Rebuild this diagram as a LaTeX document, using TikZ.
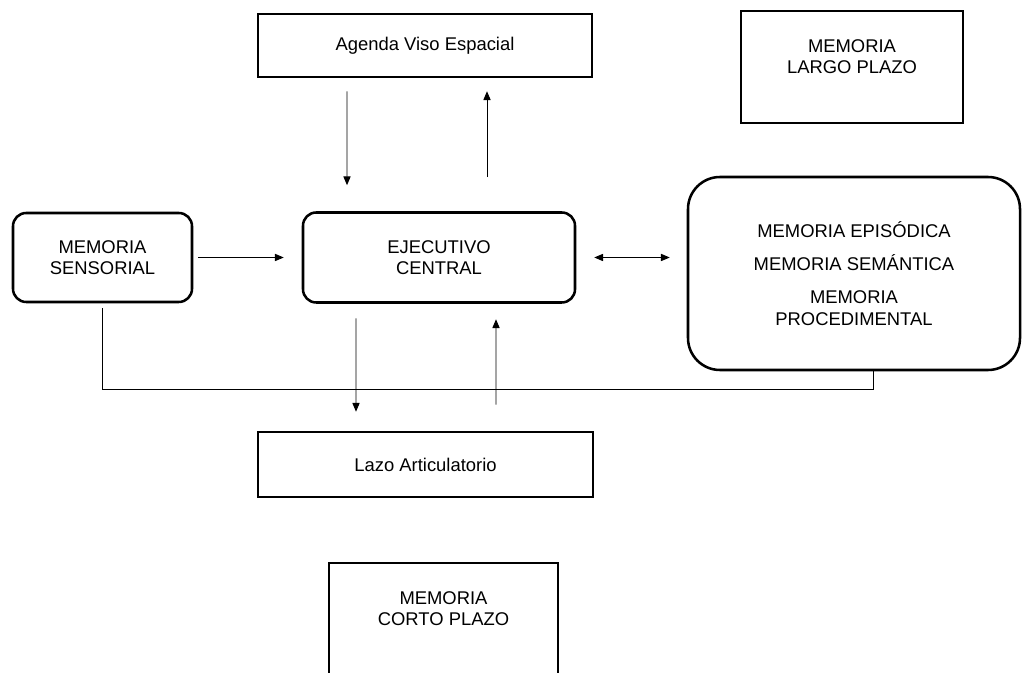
\documentclass[tikz,border=0pt]{standalone}
\usepackage{fontspec}
\setmainfont{Liberation Sans}
\usetikzlibrary{arrows.meta}
\tikzset{
  caja/.style={draw,line width=1.8pt,align=center,inner sep=2pt,font=\fontsize{13.1}{15}\selectfont},
  cajar/.style={caja,rounded corners=0.33cm},
  flecha/.style={line width=0.7pt,-{Triangle[length=0.22cm,width=0.18cm]}},
  doble/.style={line width=0.7pt,{Triangle[length=0.22cm,width=0.18cm]}-{Triangle[length=0.22cm,width=0.18cm]}},
}

\begin{document}
\begin{tikzpicture}
\useasboundingbox (0,0) rectangle (25.55,16.8);

\node[caja,minimum width=8.35cm,minimum height=1.575cm] (agenda) at (10.625,15.6625) {Agenda Viso Espacial};
\node[caja,minimum width=5.55cm,minimum height=2.8cm] (largo) at (21.3,15.125) {MEMORIA\\LARGO PLAZO\\~};
\node[cajar,minimum width=4.475cm,minimum height=2.225cm] (sensorial) at (2.5625,10.3625) {MEMORIA\\SENSORIAL};
\node[cajar,minimum width=6.8cm,minimum height=2.25cm] (ejecutivo) at (10.975,10.3625) {EJECUTIVO\\CENTRAL};
\node[caja,rounded corners=0.8cm,minimum width=8.3cm,minimum height=4.825cm] (tipos) at (21.35,9.9625) {MEMORIA EPISÓDICA\\[0.3cm]MEMORIA SEMÁNTICA\\[0.3cm]MEMORIA\\PROCEDIMENTAL};
\node[caja,minimum width=8.375cm,minimum height=1.625cm] (lazo) at (10.6375,5.1875) {Lazo Articulatorio};
\node[caja,minimum width=5.725cm,minimum height=2.8cm] (corto) at (11.0875,1.325) {MEMORIA\\CORTO PLAZO\\~};

% agenda <-> ejecutivo
\draw[flecha,shorten <=0.325cm,shorten >=0.65cm] ([xshift=-1.95cm]agenda.south) -- ([xshift=-2.3cm]ejecutivo.north);
\draw[flecha,shorten <=0.85cm,shorten >=0.325cm] ([xshift=1.2cm]ejecutivo.north) -- ([xshift=1.55cm]agenda.south);

\draw[flecha,shorten <=0.125cm,shorten >=0.45cm] (sensorial.east) -- (ejecutivo.west);
\draw[doble,shorten <=0.45cm,shorten >=0.425cm] (ejecutivo.east) -- (ejecutivo.east -| tipos.west);

% ejecutivo <-> lazo
\draw[flecha,shorten <=0.3625cm,shorten >=0.475cm] ([xshift=-2.075cm]ejecutivo.south) -- ([xshift=-1.7375cm]lazo.north);
\draw[flecha,shorten <=0.65cm,shorten >=0.3875cm] ([xshift=1.7625cm]lazo.north) -- ([xshift=1.425cm]ejecutivo.south);

\draw[line width=0.6pt,shorten <=0.125cm] (sensorial.south) -- ++(0,-2.15) -| ([xshift=0.475cm]tipos.south);
\end{tikzpicture}
\end{document}
